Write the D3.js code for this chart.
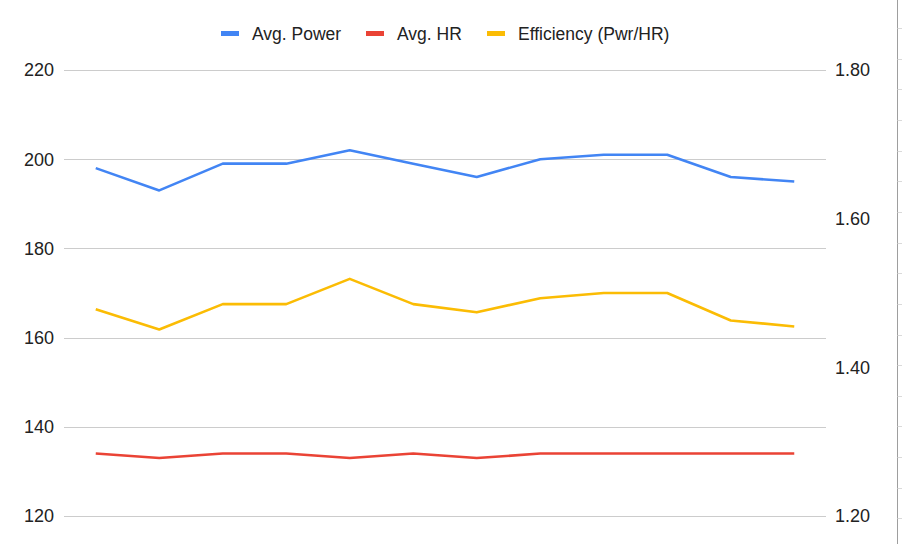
<!DOCTYPE html>
<html>
<head>
<meta charset="utf-8">
<script src="https://cdn.jsdelivr.net/npm/d3@7"></script>
<style>
  html, body { margin: 0; padding: 0; background: #fff; }
  svg { display: block; font-family: "Liberation Sans", Arial, sans-serif; }
</style>
</head>
<body>
<svg id="chart" width="902" height="544"></svg>
<script>
// ---- data ----
const categories = [1, 2, 3, 4, 5, 6, 7, 8, 9, 10, 11, 12];
const avgPower = [198, 193, 199, 199, 202, 199, 196, 200, 201, 201, 196, 195];
const avgHR = [134, 133, 134, 134, 133, 134, 133, 134, 134, 134, 134, 134];
const efficiency = [1.478, 1.451, 1.485, 1.485, 1.519, 1.485, 1.474, 1.493, 1.500, 1.500, 1.463, 1.455];
const leftTicks = [120, 140, 160, 180, 200, 220];
const rightTicks = [1.2, 1.4, 1.6, 1.8];
const seriesNames = ["Avg. Power", "Avg. HR", "Efficiency (Pwr/HR)"];
const seriesColors = ["#4285F4", "#EA4335", "#FBBC04"];

const svg = d3.select("#chart");
const W = 902, H = 544;
const plotLeft = 64, plotRight = 826, plotTop = 70, plotBottom = 516;

const x = d3.scalePoint().domain(categories).range([plotLeft, plotRight]).padding(0.5);
const yL = d3.scaleLinear().domain([120, 220]).range([plotBottom, plotTop]);
const yR = d3.scaleLinear().domain([1.2, 1.8]).range([plotBottom, plotTop]);

// gridlines
svg.append("g")
  .selectAll("line").data(leftTicks).join("line")
  .attr("x1", plotLeft).attr("x2", plotRight)
  .attr("y1", d => Math.round(yL(d)) + 0.5).attr("y2", d => Math.round(yL(d)) + 0.5)
  .attr("stroke", "#cccccc").attr("stroke-width", 1);

// left axis labels
svg.append("g")
  .selectAll("text").data(leftTicks).join("text")
  .attr("x", 54).attr("y", d => yL(d))
  .attr("dy", "0.35em").attr("text-anchor", "end")
  .attr("font-size", 18).attr("fill", "#222")
  .text(d => d3.format("d")(d));

// right axis labels
svg.append("g")
  .selectAll("text").data(rightTicks).join("text")
  .attr("x", 835).attr("y", d => yR(d))
  .attr("dy", "0.35em").attr("text-anchor", "start")
  .attr("font-size", 18).attr("fill", "#222")
  .text(d => d3.format(".2f")(d));

// right-edge decoration (spreadsheet edge)
const edgeX = 897.5;
svg.append("line").attr("x1", edgeX).attr("x2", edgeX).attr("y1", 0).attr("y2", H)
  .attr("stroke", "#9e9e9e").attr("stroke-width", 1);
const edgeTicks = d3.range(0, 17).map(i => 28 + i * 30.65);
svg.append("g").selectAll("line").data(edgeTicks).join("line")
  .attr("x1", edgeX).attr("x2", W)
  .attr("y1", d => Math.round(d) + 0.5).attr("y2", d => Math.round(d) + 0.5)
  .attr("stroke", "#dadada").attr("stroke-width", 1);

// lines
const seriesData = [
  { values: avgPower, y: yL },
  { values: avgHR, y: yL },
  { values: efficiency, y: yR }
];
seriesData.forEach((s, i) => {
  const line = d3.line()
    .x((d, j) => x(categories[j]))
    .y(d => s.y(d));
  svg.append("path")
    .datum(s.values)
    .attr("d", line)
    .attr("fill", "none")
    .attr("stroke", seriesColors[i])
    .attr("stroke-width", 2.6)
    .attr("stroke-linejoin", "round");
});

// legend
const legendItems = [
  { sx: 221, tx: 252 },
  { sx: 366, tx: 397 },
  { sx: 487, tx: 518 }
];
const lg = svg.append("g");
seriesNames.forEach((name, i) => {
  lg.append("rect")
    .attr("x", legendItems[i].sx).attr("y", 31)
    .attr("width", 18).attr("height", 5)
    .attr("fill", seriesColors[i]);
  lg.append("text")
    .attr("x", legendItems[i].tx).attr("y", 33.5)
    .attr("dy", "0.35em")
    .attr("font-size", 17.5).attr("fill", "#222")
    .text(name);
});
</script>
</body>
</html>
